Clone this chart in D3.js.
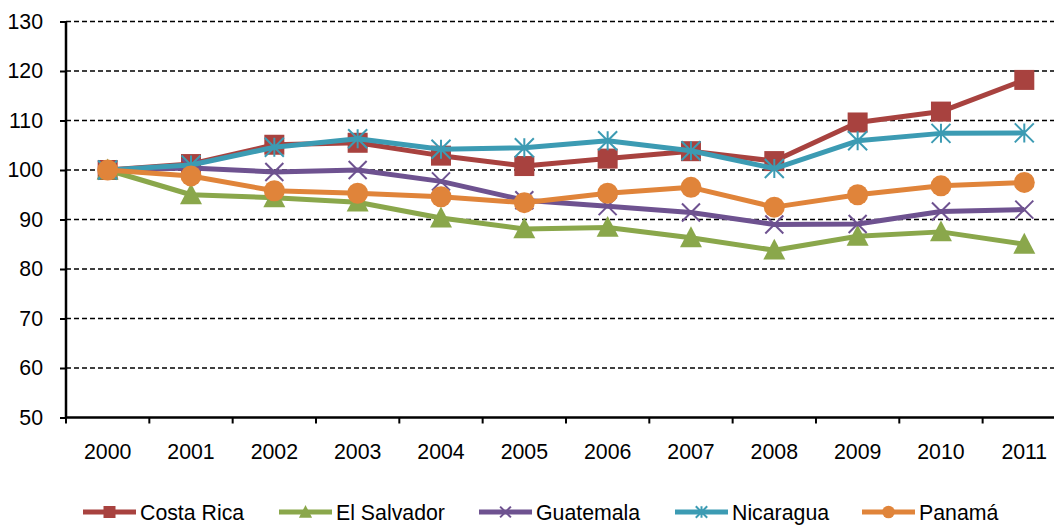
<!DOCTYPE html>
<html><head><meta charset="utf-8">
<script src="https://cdn.jsdelivr.net/npm/d3@7"></script>
<style>body{margin:0;background:#fff}svg{display:block}text{font-family:"Liberation Sans",Arial,sans-serif;fill:#000}</style>
</head><body><svg id="c" width="1054" height="525"></svg>
<script>
const years = ["2000","2001","2002","2003","2004","2005","2006","2007","2008","2009","2010","2011"];
const yTicks = [50,60,70,80,90,100,110,120,130];
const seriesNames = ["Costa Rica","El Salvador","Guatemala","Nicaragua","Panamá"];
const costaRica  = [100,101.2,105.1,105.5,102.9,100.8,102.3,103.8,101.8,109.6,111.8,118.2];
const elSalvador = [100,95.0,94.4,93.5,90.3,88.1,88.4,86.3,83.8,86.6,87.5,85.0];
const guatemala  = [100,100.4,99.6,100.0,97.7,93.9,92.7,91.4,89.0,89.1,91.6,92.0];
const nicaragua  = [100,101.0,104.6,106.3,104.2,104.5,105.9,103.9,100.3,105.9,107.4,107.5];
const panama     = [100,98.8,95.8,95.3,94.6,93.4,95.3,96.5,92.5,95.0,96.8,97.5];
const colors = ["#A8423F","#8AA74B","#6E5290","#3C9BB3","#E0843A"];
const markers = ["square","triangle","x","star","circle"];
const allValues = [costaRica, elSalvador, guatemala, nicaragua, panama];

const svg = d3.select("#c");
const x0 = 66, step = 83.33;
const x = d3.scaleBand().domain(years).range([x0, x0 + step*years.length]).paddingInner(0).paddingOuter(0);
const y = d3.scaleLinear().domain([50,130]).range([417.5,21.5]);
const FS = "21.3px";

// gridlines
svg.append("g").selectAll("line").data(yTicks.filter(d=>d>50)).join("line")
  .attr("x1", x0).attr("x2", 1054).attr("y1", d=>y(d)).attr("y2", d=>y(d))
  .attr("stroke","#000").attr("stroke-width",1.6).attr("stroke-dasharray","5,3");

// y axis
const yAxis = svg.append("g").attr("transform",`translate(${x0},0)`)
  .call(d3.axisLeft(y).tickValues(yTicks).tickSize(6).tickPadding(17).tickFormat(d3.format("d")));
yAxis.select(".domain").attr("stroke","#000").attr("stroke-width",2.5).attr("d",`M0,${y(50)}V${y(130)}`);
yAxis.selectAll(".tick line").attr("stroke","#000").attr("stroke-width",2);
yAxis.selectAll("text").style("font-size",FS).attr("font-family",null);

// x axis
const xAxis = svg.append("g").attr("transform",`translate(0,${y(50)})`)
  .call(d3.axisBottom(x).tickSize(0).tickPadding(26));
xAxis.select(".domain").attr("stroke","#000").attr("stroke-width",2.5).attr("d",`M${x0},0H1054`);
xAxis.selectAll("text").style("font-size",FS).attr("font-family",null);
// boundary ticks
svg.append("g").selectAll("line").data(d3.range(years.length+1)).join("line")
  .attr("x1", i=>x0+i*x.step()).attr("x2", i=>x0+i*x.step())
  .attr("y1", y(50)).attr("y2", y(50)+6).attr("stroke","#000").attr("stroke-width",2);

function drawMarker(g, type, cx, cy, color, s) {
  if (type==="square") {
    g.append("rect").attr("x",cx-s/2).attr("y",cy-s/2).attr("width",s).attr("height",s).attr("fill",color);
  } else if (type==="triangle") {
    const h = s*0.95;
    g.append("path").attr("d",`M${cx},${cy-h*0.55}L${cx+s/2},${cy+h*0.45}L${cx-s/2},${cy+h*0.45}Z`).attr("fill",color);
  } else if (type==="circle") {
    g.append("circle").attr("cx",cx).attr("cy",cy).attr("r",s/2).attr("fill",color);
  } else if (type==="x") {
    const r = s/2;
    g.append("path").attr("d",`M${cx-r},${cy-r}L${cx+r},${cy+r}M${cx-r},${cy+r}L${cx+r},${cy-r}`)
      .attr("stroke",color).attr("stroke-width",2).attr("fill","none");
  } else if (type==="star") {
    const r = s/2;
    g.append("path").attr("d",`M${cx-r},${cy-r}L${cx+r},${cy+r}M${cx-r},${cy+r}L${cx+r},${cy-r}M${cx},${cy-r}V${cy+r}`)
      .attr("stroke",color).attr("stroke-width",2).attr("fill","none");
  }
}
const sizes = {square:20, triangle:22, x:18, star:19, circle:21};

const line = d3.line().x((d,i)=>x(years[i])+x.bandwidth()/2).y(d=>y(d));
allValues.forEach((vals, si) => {
  const g = svg.append("g");
  g.append("path").attr("d", line(vals)).attr("fill","none").attr("stroke",colors[si])
    .attr("stroke-width",5).attr("stroke-linejoin","round");
  vals.forEach((v,i)=>drawMarker(g, markers[si], x(years[i])+x.bandwidth()/2, y(v), colors[si], sizes[markers[si]]));
});

// legend
const legendX = [83, 279, 479, 675, 862];
const ly = 512;
seriesNames.forEach((name, si) => {
  const g = svg.append("g");
  const lx = legendX[si];
  g.append("line").attr("x1",lx).attr("x2",lx+53).attr("y1",ly).attr("y2",ly).attr("stroke",colors[si]).attr("stroke-width",5);
  drawMarker(g, markers[si], lx+26.5, ly, colors[si], sizes[markers[si]]*0.6);
  g.append("text").attr("x", lx+57).attr("y", ly).attr("dy","0.36em").style("font-size",FS).text(name);
});
</script></body></html>
